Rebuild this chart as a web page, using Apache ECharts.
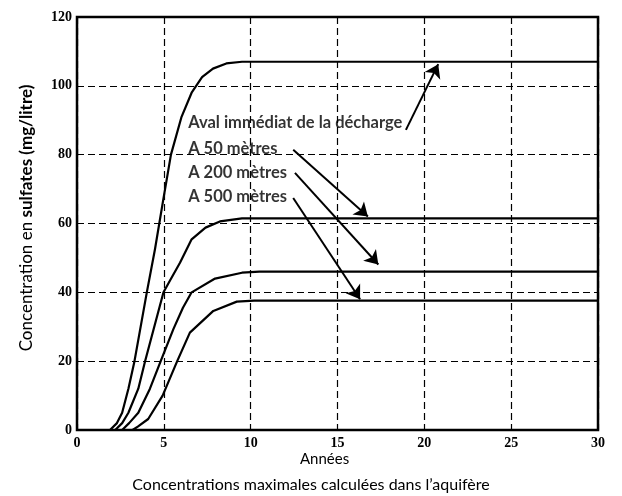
<!DOCTYPE html>
<html lang="fr">
<head>
<meta charset="UTF-8">
<title>Concentrations maximales</title>
<script src="https://cdn.jsdelivr.net/npm/echarts@6/dist/echarts.min.js"></script>
<style>
  html, body { margin: 0; padding: 0; background: #fff; }
  #main { width: 622px; height: 496px; }
</style>
</head>
<body>
<div id="main"></div>
<script>
// valeurs : [années, mg/litre]
var aval = [[0,0],[1.9,0],[2.3,2],[2.6,5],[2.96,12],[3.31,20],[4.02,40],[4.49,52.5],[4.97,67],[5.41,80],[6.02,91],[6.6,98],[7.2,102.5],[7.83,105],[8.6,106.5],[9.5,107],[30,107]];
var a50 = [[0,0],[2.2,0],[2.6,2],[2.96,5],[3.53,12],[3.92,20],[4.98,40],[5.42,44],[5.93,48.6],[6.6,55.4],[7.4,58.8],[8.23,60.6],[9.5,61.5],[30,61.5]];
var a200 = [[0,0],[2.6,0],[3.0,2],[3.53,5],[4.2,12],[4.82,20],[5.55,29.3],[6.1,35.5],[6.6,40],[7.95,44],[9.5,45.7],[10.5,46],[30,46]];
var a500 = [[0,0],[3.2,0],[3.5,1],[4.1,3.2],[4.93,10],[5.77,20],[6.5,28.3],[7.85,34.6],[9.2,37.3],[10.2,37.6],[30,37.6]];

var xTicks = [0, 5, 10, 15, 20, 25, 30];
var yTicks = [0, 20, 40, 60, 80, 100, 120];

// annotations (coordonnées en unités du graphique)
var labelNames = ['Aval immédiat de la décharge', 'A 50 mètres', 'A 200 mètres', 'A 500 mètres'];
var labelPos = [[6.4, 89.3], [6.4, 81.8], [6.4, 74.9], [6.4, 67.8]];
var arrowFrom = [[18.94, 87.2], [12.45, 81.4], [12.55, 74.7], [12.45, 67.4]];
var arrowTo = [[20.8, 106.3], [16.75, 62], [17.35, 48.1], [16.3, 38]];

var serif = 'Liberation Serif';
var sans = 'Lato';

function curve(name, data) {
  return {
    name: name,
    type: 'line',
    data: data,
    showSymbol: false,
    smooth: false,
    lineStyle: { color: '#000', width: 2.2, join: 'round' },
    silent: true,
    z: 3
  };
}

var arrows = [];
for (var i = 0; i < arrowFrom.length; i++) {
  arrows.push({ coords: [arrowFrom[i], arrowTo[i]] });
}

var labels = [];
for (var i = 0; i < labelNames.length; i++) {
  labels.push({ value: labelPos[i], name: labelNames[i] });
}

var option = {
  animation: false,
  backgroundColor: '#fff',
  grid: { left: 77, right: 24, top: 17, bottom: 66, show: true, borderColor: '#000', borderWidth: 2.5, z: 5 },
  xAxis: {
    type: 'value',
    min: 0, max: 30, interval: 5,
    axisLine: { show: false },
    axisTick: { show: false },
    axisLabel: {
      fontFamily: serif, fontWeight: 'bold', fontSize: 14, color: '#000', margin: 6,
      formatter: function (v) { return xTicks.indexOf(v) >= 0 ? String(v) : ''; }
    },
    splitLine: { show: true, lineStyle: { color: '#000', type: [7, 4], width: 1.2 } }
  },
  yAxis: {
    type: 'value',
    min: 0, max: 120, interval: 20,
    axisLine: { show: false },
    axisTick: { show: false },
    axisLabel: {
      fontFamily: serif, fontWeight: 'bold', fontSize: 14, color: '#000', margin: 5,
      formatter: function (v) { return yTicks.indexOf(v) >= 0 ? String(v) : ''; }
    },
    splitLine: { show: true, lineStyle: { color: '#000', type: [7, 4], width: 1.2 } }
  },
  title: {
    text: 'Concentrations maximales calculées dans l\u2019aquifère',
    left: 'center', top: 472,
    textStyle: { fontFamily: sans, fontSize: 16, fontWeight: 'normal', color: '#000' }
  },
  graphic: [
    {
      type: 'text', left: 300, top: 452,
      style: { text: 'Années', font: '15px ' + sans, fill: '#000' }
    },
    {
      type: 'text', x: 27, y: 218, rotation: Math.PI / 2,
      style: {
        text: '{a|Concentration en }{b|sulfates (mg/litre)}',
        align: 'center', verticalAlign: 'middle',
        rich: {
          a: { fontFamily: sans, fontSize: 17, fontWeight: 'normal', fill: '#000' },
          b: { fontFamily: sans, fontSize: 17, fontWeight: 'bold', fill: '#000' }
        }
      }
    }
  ],
  series: [
    curve('Aval immédiat de la décharge', aval),
    curve('A 50 mètres', a50),
    curve('A 200 mètres', a200),
    curve('A 500 mètres', a500),
    {
      type: 'lines',
      coordinateSystem: 'cartesian2d',
      data: arrows,
      symbol: ['none', 'arrow'],
      symbolSize: [8, 13],
      lineStyle: { color: '#000', width: 2, opacity: 1 },
      silent: true,
      z: 4
    },
    {
      type: 'scatter',
      data: labels,
      symbolSize: 0,
      silent: true,
      label: {
        show: true, position: 'right', distance: 0,
        formatter: function (p) { return p.name; },
        fontFamily: sans, fontSize: 16.5, fontWeight: 'bold', color: '#000'
      },
      z: 6
    }
  ]
};

var chart = echarts.init(document.getElementById('main'));
chart.setOption(option);
</script>
</body>
</html>
